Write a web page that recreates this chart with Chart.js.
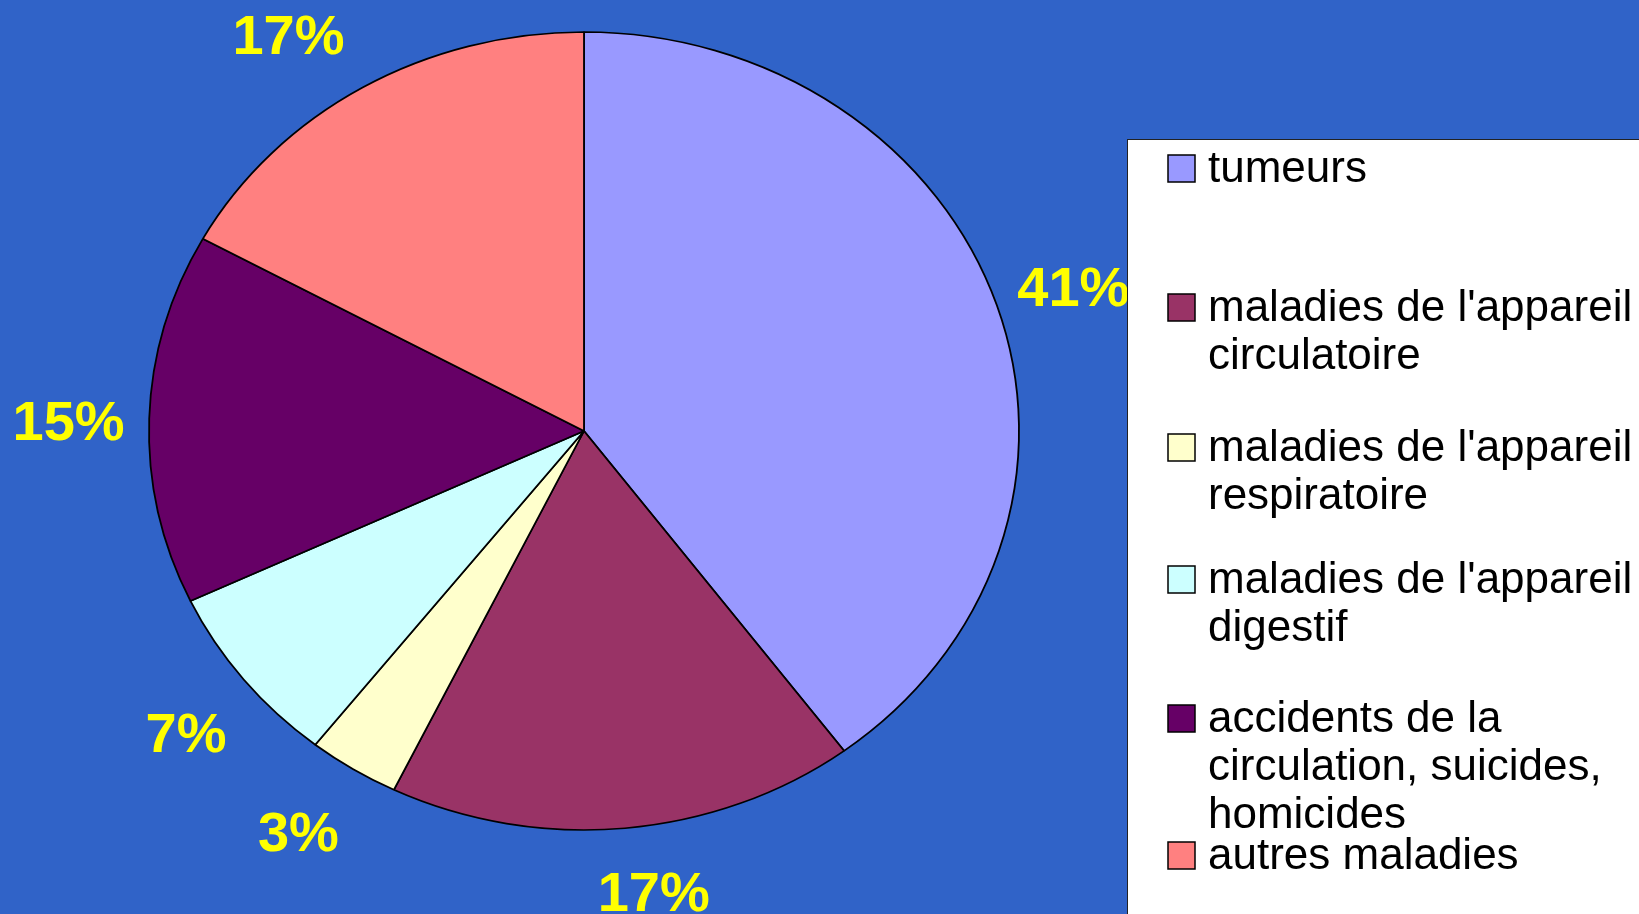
<!DOCTYPE html>
<html>
<head>
<meta charset="utf-8">
<script src="https://cdn.jsdelivr.net/npm/chart.js@4.4.1/dist/chart.umd.min.js"></script>
<style>
html, body { margin: 0; padding: 0; background: #3063C8; }
#wrap { width: 1639px; height: 914px; position: relative; }
</style>
</head>
<body>
<div id="wrap"><canvas id="causes"></canvas></div>
<script>
const categories = [
    ['tumeurs'],
    ["maladies de l'appareil", 'circulatoire'],
    ["maladies de l'appareil", 'respiratoire'],
    ["maladies de l'appareil", 'digestif'],
    ['accidents de la', 'circulation, suicides,', 'homicides'],
    ['autres maladies']
];
const shares = [39.8, 17.4, 3.4, 7.4, 15.0, 17.0];
const shownPct = ['41%', '17%', '3%', '7%', '15%', '17%'];
const colors = ['#9999FF', '#993366', '#FFFFCC', '#CCFFFF', '#660066', '#FF8080'];

// the pie is flattened on the slide
const CX = 584, CY = 431, RX = 435, RY = 399;
const FONT = '"Liberation Sans", Arial, sans-serif';
// small hand nudges for the % labels (x, y)
const nudge = [[-2, 5], [21, -13], [-11, -2], [7, 5], [2, 4], [-32, 12]];
// legend: baseline of the first line of each entry
const legendRows = [182, 321, 461, 593, 732, 869];

const squash = {
    id: 'squash',
    beforeDatasetsDraw(chart) {
        const arc = chart.getDatasetMeta(0).data[0];
        const ctx = chart.ctx;
        ctx.save();
        ctx.translate(CX, CY);
        ctx.scale(RX / arc.outerRadius, RY / arc.outerRadius);
        ctx.translate(-arc.x, -arc.y);
    },
    afterDatasetsDraw(chart) {
        const ctx = chart.ctx;
        ctx.restore();

        ctx.save();
        ctx.font = 'bold 56px ' + FONT;
        ctx.fillStyle = '#FFFF00';
        ctx.textAlign = 'center';
        ctx.textBaseline = 'alphabetic';
        chart.getDatasetMeta(0).data.forEach((arc, i) => {
            const mid = (arc.startAngle + arc.endAngle) / 2;
            const x = CX + RX * 1.19 * Math.cos(mid) + nudge[i][0];
            const y = CY + RY * 1.19 * Math.sin(mid) + nudge[i][1];
            ctx.fillText(shownPct[i], x, y + 20);
        });
        ctx.restore();
    }
};

const legendBox = {
    id: 'legendBox',
    afterDraw(chart) {
        const ctx = chart.ctx;
        ctx.save();
        ctx.fillStyle = '#FFFFFF';
        ctx.fillRect(1127.5, 139.5, 600, 900);
        ctx.strokeStyle = '#222';
        ctx.lineWidth = 1;
        ctx.strokeRect(1127.5, 139.5, 600, 900);

        ctx.font = '44px ' + FONT;
        ctx.textBaseline = 'alphabetic';
        ctx.textAlign = 'left';
        chart.data.labels.forEach((lines, i) => {
            const y = legendRows[i];
            ctx.fillStyle = colors[i];
            ctx.fillRect(1168, y - 27, 27, 27);
            ctx.strokeStyle = '#000';
            ctx.lineWidth = 1.5;
            ctx.strokeRect(1168, y - 27, 27, 27);
            ctx.fillStyle = '#000';
            lines.forEach((t, j) => ctx.fillText(t, 1208, y + j * 48));
        });
        ctx.restore();
    }
};

new Chart(document.getElementById('causes'), {
    type: 'pie',
    data: {
        labels: categories,
        datasets: [{
            data: shares,
            backgroundColor: colors,
            borderColor: '#000',
            borderWidth: 1.8
        }]
    },
    options: {
        responsive: true,
        maintainAspectRatio: false,
        animation: false,
        events: [],
        layout: { padding: { left: 149, right: 620, top: 0, bottom: 44 } },
        plugins: {
            legend: { display: false },
            tooltip: { enabled: false }
        }
    },
    plugins: [squash, legendBox]
});
</script>
</body>
</html>
